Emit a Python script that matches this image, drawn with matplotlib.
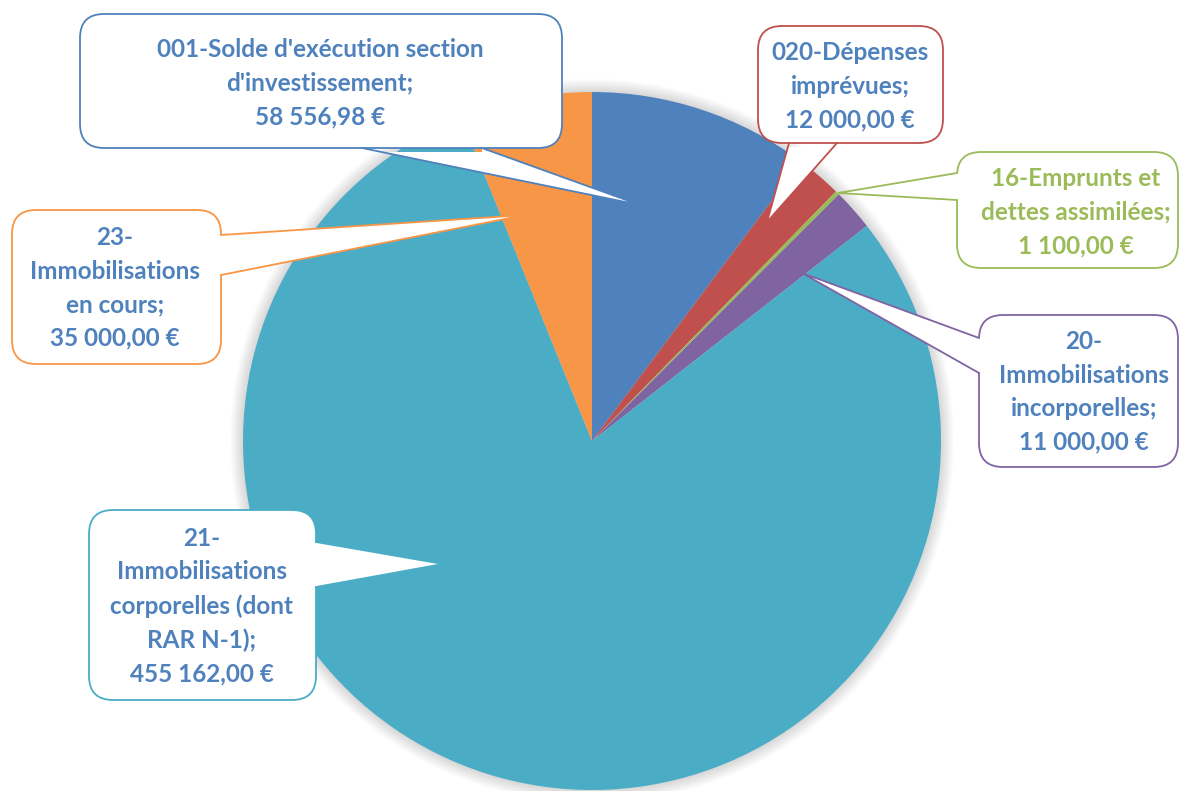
import matplotlib
matplotlib.use("Agg")
import matplotlib.pyplot as plt
from matplotlib.patches import FancyBboxPatch, Polygon, Circle
from matplotlib.lines import Line2D

# ---- data ----
categories = ["001-Solde d'exécution section\nd'investissement;",
              "020-Dépenses\nimprévues;",
              "16-Emprunts et\ndettes assimilées;",
              "20-\nImmobilisations\nincorporelles;",
              "21-\nImmobilisations\ncorporelles (dont\nRAR N-1);",
              "23-\nImmobilisations\nen cours;"]
values = [58556.98, 12000.00, 1100.00, 11000.00, 455162.00, 35000.00]
slice_colors = ["#4F81BD", "#C0504D", "#9BBB59", "#8064A2", "#4BACC6", "#F79646"]
text_colors = ["#4F81BD", "#4F81BD", "#9BBB59", "#4F81BD", "#4F81BD", "#4F81BD"]


def fmt_eur(v):
    s = f"{v:,.2f}"
    s = s.replace(",", " ").replace(".", ",")
    return s + " €"


W, H = 1180, 791
fig = plt.figure(figsize=(W / 100, H / 100), dpi=100)
ax = fig.add_axes([0, 0, 1, 1])


def Y(y):
    return H - y


cx, cy, R = 592, 441, 349

# soft shadow around the pie
for k in range(1, 14):
    ax.add_patch(Circle((cx, Y(cy)), R + k, facecolor="black", edgecolor="none",
                        alpha=0.011, zorder=0))

ax.pie(values, colors=slice_colors, startangle=90, counterclock=False,
       center=(cx, Y(cy)), radius=R, wedgeprops=dict(linewidth=0),
       frame=False)

ax.set_xlim(0, W)
ax.set_ylim(0, H)
ax.set_aspect("auto")
ax.axis("off")

# callout layout: box (x0,y0,x1,y1), tail base points, tip, text center
layout = [
    dict(box=(80, 14, 562, 148), b1=(362, 148), b2=(482, 148), tip=(640, 205), inset=(0, 4), tc=(320, 83)),
    dict(box=(758, 26, 943, 143), b1=(789, 143), b2=(837, 143), tip=(767, 222), inset=(0, 4), tc=(850, 86)),
    dict(box=(957, 152, 1178, 268), b1=(957, 173), b2=(957, 200), tip=(838, 193), inset=(4, 0), tc=(1076, 212)),
    dict(box=(979, 315, 1178, 467), b1=(979, 338), b2=(979, 373), tip=(802, 273), inset=(4, 0), tc=(1084, 392)),
    dict(box=(89, 510, 316, 700), b1=(316, 542), b2=(316, 587), tip=(443, 564), inset=(-4, 0), tc=(202, 606)),
    dict(box=(12, 210, 221, 364), b1=(221, 235), b2=(221, 275), tip=(525, 215), inset=(-4, 0), tc=(115, 288)),
]

for i, L in enumerate(layout):
    x0, y0, x1, y1 = L["box"]
    ec = slice_colors[i]
    box = FancyBboxPatch((x0, Y(y1)), x1 - x0, y1 - y0,
                         boxstyle="round,pad=0,rounding_size=24",
                         facecolor="white", edgecolor=ec, linewidth=1.3, zorder=5)
    ax.add_patch(box)
    b1, b2, tip = L["b1"], L["b2"], L["tip"]
    dx, dy = L["inset"]
    poly = [(b1[0], Y(b1[1])), (tip[0], Y(tip[1])), (b2[0], Y(b2[1])),
            (b2[0] + dx, Y(b2[1] + dy)), (b1[0] + dx, Y(b1[1] + dy))]
    ax.add_patch(Polygon(poly, closed=True, facecolor="white", edgecolor="none", zorder=6))
    ax.add_line(Line2D([b1[0], tip[0], b2[0]], [Y(b1[1]), Y(tip[1]), Y(b2[1])],
                       color=ec, linewidth=1.3, solid_joinstyle="miter", zorder=7))
    label = categories[i] + "\n" + fmt_eur(values[i])
    ax.text(L["tc"][0], Y(L["tc"][1]), label, ha="center", va="center",
            fontsize=17.5, fontweight="bold", family=["Lato", "DejaVu Sans"],
            color=text_colors[i], linespacing=1.55, zorder=8)

fig.savefig("out.png", dpi=100)
